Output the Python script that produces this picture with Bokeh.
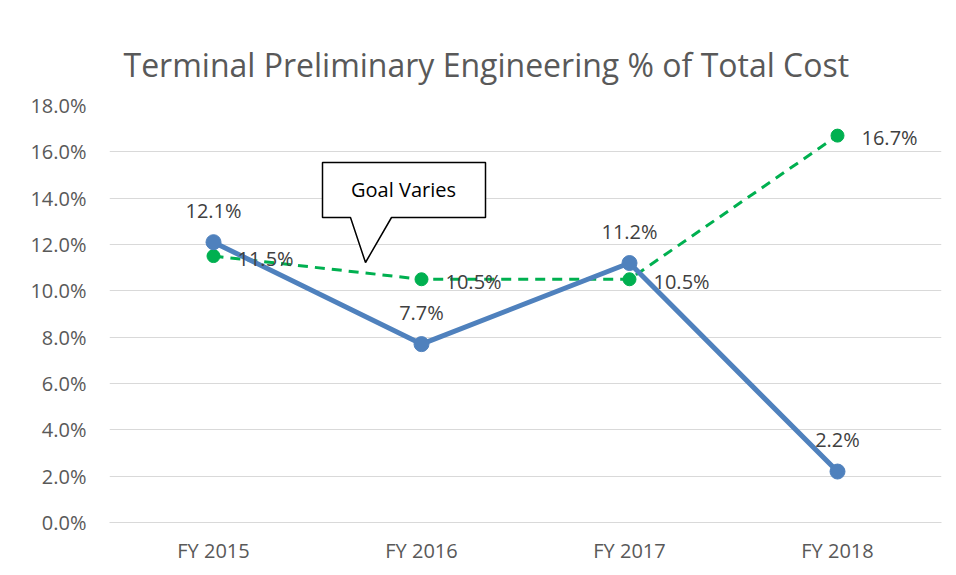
from bokeh.plotting import figure
from bokeh.models import (ColumnDataSource, FactorRange, Range1d, PrintfTickFormatter,
                          FixedTicker, Label, PolyAnnotation, Title)
from bokeh.embed import file_html
from bokeh.resources import INLINE
from bokeh.core.properties import value

categories = ["FY 2015", "FY 2016", "FY 2017", "FY 2018"]
actual = [12.1, 7.7, 11.2, 2.2]
goal = [11.5, 10.5, 10.5, 16.7]
y_ticks = [0, 2, 4, 6, 8, 10, 12, 14, 16, 18]
title_text = "Terminal Preliminary Engineering % of Total Cost"
callout_text = "Goal Varies"

FONT = "Open Sans"
GRAY = "#595959"
LABEL = "#404040"
BLUE = "#4F81BD"
GREEN = "#00B050"

src = ColumnDataSource(dict(
    cat=categories,
    actual=actual,
    goal=goal,
    actual_lbl=[f"{v:.1f}%" for v in actual],
    goal_lbl=[f"{v:.1f}%" for v in goal],
))

p = figure(x_range=FactorRange(*categories), y_range=Range1d(0, 18),
           width=948, height=567, output_backend="svg", toolbar_location=None,
           min_border_left=109, min_border_right=7, min_border_top=105,
           min_border_bottom=45, title=None)
p.outline_line_color = None
p.background_fill_color = "white"
p.border_fill_color = "white"

# spacer panel next to the frame, then the real title above it
p.add_layout(Title(text=" ", text_font_size="10px", standoff=2, text_alpha=0), "above")
p.add_layout(Title(text=title_text, align="left", offset=14, standoff=40,
                   text_font=FONT, text_font_size="32px", text_font_style="normal",
                   text_color=GRAY), "above")

p.xgrid.grid_line_color = None
p.ygrid.grid_line_color = "#d9d9d9"
p.ygrid.grid_line_width = 1

p.yaxis.ticker = FixedTicker(ticks=y_ticks)
p.yaxis.formatter = PrintfTickFormatter(format="%.1f%%")
p.yaxis.axis_line_color = None
p.yaxis.major_tick_line_color = None
p.yaxis.minor_tick_line_color = None
p.yaxis.major_tick_out = 0
p.yaxis.major_tick_in = 0
p.yaxis.major_label_standoff = 23
p.yaxis.major_label_text_font = FONT
p.yaxis.major_label_text_font_size = "20px"
p.yaxis.major_label_text_color = GRAY

p.xaxis.axis_line_color = "#d9d9d9"
p.xaxis.axis_line_width = 1
p.xaxis.major_tick_line_color = None
p.xaxis.major_tick_out = 0
p.xaxis.major_tick_in = 0
p.xaxis.major_label_standoff = 14
p.xaxis.major_label_text_font = FONT
p.xaxis.major_label_text_font_size = "20px"
p.xaxis.major_label_text_color = GRAY

# Goal series
p.line(x="cat", y="goal", source=src, line_color=GREEN, line_width=3, line_dash="10 7")
p.scatter(x="cat", y="goal", source=src, size=13, fill_color=GREEN, line_color=GREEN)
# Actual series
p.line(x="cat", y="actual", source=src, line_color=BLUE, line_width=5, line_join="round")
p.scatter(x="cat", y="actual", source=src, size=15, fill_color=BLUE, line_color=BLUE)

p.text(x="cat", y="actual", text="actual_lbl", source=src, y_offset=-32,
       text_align="center", text_baseline="middle", text_font=value(FONT),
       text_font_size="20px", text_color=LABEL)
p.text(x="cat", y="goal", text="goal_lbl", source=src, x_offset=24, y_offset=2,
       text_align="left", text_baseline="middle", text_font=value(FONT),
       text_font_size="20px", text_color=LABEL)

# Callout
p.add_layout(PolyAnnotation(
    xs=[213, 376, 376, 282, 256, 241, 213],
    ys=[360, 360, 305, 305, 260, 305, 305],
    xs_units="screen", ys_units="screen",
    fill_color="white", fill_alpha=1.0, line_color="black", line_alpha=1.0,
    line_width=1.5))
p.add_layout(Label(x=294, y=333, x_units="screen", y_units="screen", text=callout_text,
                   text_align="center", text_baseline="middle", text_font=FONT,
                   text_font_size="20px", text_color="black"))

open("out.html", "w").write(file_html(p, INLINE))
